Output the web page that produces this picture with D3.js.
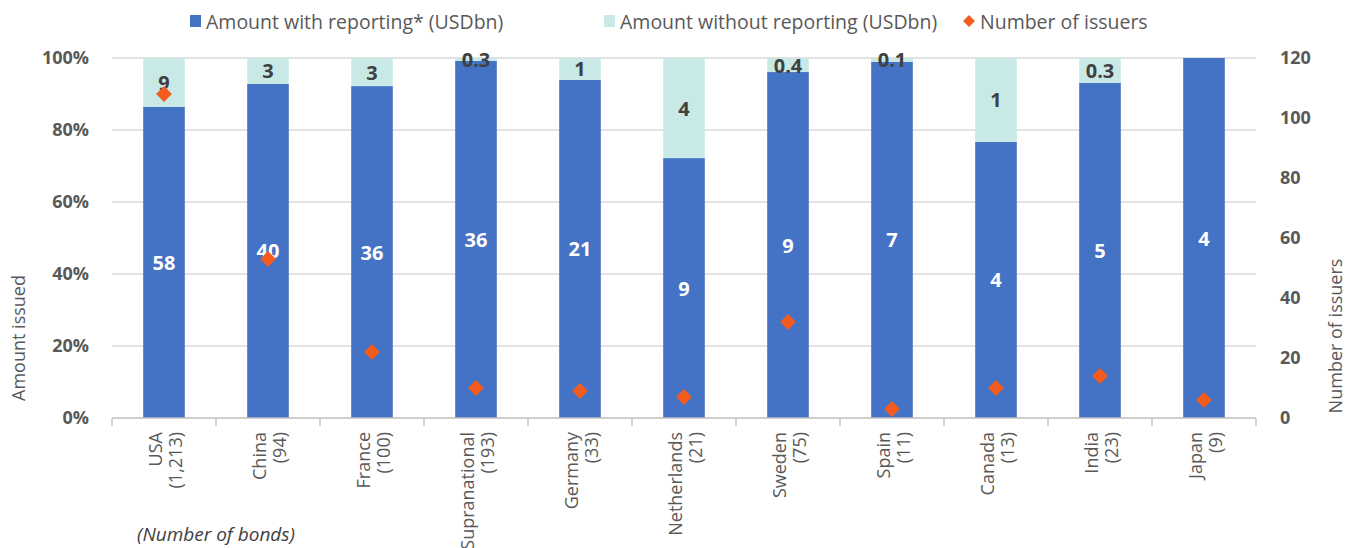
<!DOCTYPE html>
<html>
<head>
<meta charset="utf-8">
<script src="https://cdn.jsdelivr.net/npm/d3@7"></script>
<style>
  body { margin: 0; background: #fff; }
  svg { font-family: "Open Sans", sans-serif; }
</style>
</head>
<body>
<svg width="1349" height="548"></svg>
<script>
// data
var countries = ["USA", "China", "France", "Supranational", "Germany", "Netherlands", "Sweden", "Spain", "Canada", "India", "Japan"];
var bondCounts = ["1,213", "94", "100", "193", "33", "21", "75", "11", "13", "23", "9"];
var withLabels = ["58", "40", "36", "36", "21", "9", "9", "7", "4", "5", "4"];
var withoutLabels = ["9", "3", "3", "0.3", "1", "4", "0.4", "0.1", "1", "0.3", ""];
var shareWith = [86.4, 92.8, 92.2, 99.2, 93.9, 72.2, 96.1, 98.9, 76.7, 93.1, 100];
var issuers = [108, 53, 22, 10, 9, 7, 32, 3, 10, 14, 6];
var pctTicks = [0, 20, 40, 60, 80, 100];
var issuerTicks = [0, 20, 40, 60, 80, 100, 120];

var blue = "#4472C4", light = "#C9E9E6", orange = "#F35B1F", grey = "#595959", dark = "#404040";

var svg = d3.select("svg");
var plotLeft = 112, plotRight = 1256, plotTop = 58, plotBottom = 418;

var x = d3.scaleBand().domain(countries).range([plotLeft, plotRight]).paddingInner(0.6).paddingOuter(0.3);
var y = d3.scaleLinear().domain([0, 100]).range([plotBottom, plotTop]);
var y2 = d3.scaleLinear().domain([0, 120]).range([plotBottom, plotTop]);

// gridlines
svg.append("g").selectAll("line")
  .data(pctTicks.slice(1))
  .enter().append("line")
  .attr("x1", plotLeft).attr("x2", plotRight)
  .attr("y1", function(d) { return y(d); })
  .attr("y2", function(d) { return y(d); })
  .attr("stroke", "#d9d9d9").attr("stroke-width", 1.3);

var rows = countries.map(function(c, i) {
  return { c: c, w: shareWith[i], wo: 100 - shareWith[i], lw: withLabels[i], lwo: withoutLabels[i], n: issuers[i] };
});
var stacked = d3.stack().keys(["w", "wo"])(rows);
var colors = [blue, light];

var series = svg.append("g").selectAll("g")
  .data(stacked)
  .enter().append("g")
  .attr("fill", function(d, i) { return colors[i]; });

series.selectAll("rect")
  .data(function(d) { return d; })
  .enter().append("rect")
  .attr("x", function(d) { return x(d.data.c); })
  .attr("width", x.bandwidth())
  .attr("y", function(d) { return y(d[1]); })
  .attr("height", function(d) { return y(d[0]) - y(d[1]); });

// bottom axis line with category boundary ticks
svg.append("line")
  .attr("x1", plotLeft).attr("x2", plotRight)
  .attr("y1", plotBottom).attr("y2", plotBottom)
  .attr("stroke", "#bfbfbf").attr("stroke-width", 1.3);
var bounds = countries.map(function(c) { return x(c) + x.bandwidth() / 2 - x.step() / 2; });
bounds.push(plotRight);
svg.append("g").selectAll("line")
  .data(bounds)
  .enter().append("line")
  .attr("x1", function(d) { return d; }).attr("x2", function(d) { return d; })
  .attr("y1", plotBottom).attr("y2", plotBottom + 8)
  .attr("stroke", "#bfbfbf").attr("stroke-width", 1.3);

// value labels
svg.append("g").selectAll("text")
  .data(stacked[0])
  .enter().append("text")
  .attr("x", function(d) { return x(d.data.c) + x.bandwidth() / 2; })
  .attr("y", function(d) { return (y(d[0]) + y(d[1])) / 2; })
  .attr("text-anchor", "middle").attr("dominant-baseline", "central")
  .attr("fill", "#fff").attr("font-weight", "bold").attr("font-size", 20)
  .text(function(d) { return d.data.lw; });

svg.append("g").selectAll("text")
  .data(stacked[1])
  .enter().append("text")
  .attr("x", function(d) { return x(d.data.c) + x.bandwidth() / 2; })
  .attr("y", function(d) { return (y(d[0]) + y(d[1])) / 2; })
  .attr("text-anchor", "middle").attr("dominant-baseline", "central")
  .attr("fill", dark).attr("font-weight", "bold").attr("font-size", 20)
  .text(function(d) { return d.data.lwo; });

// issuers diamonds
var diamond = d3.symbol().type(d3.symbolSquare).size(125);
svg.append("g").selectAll("path")
  .data(rows)
  .enter().append("path")
  .attr("d", diamond)
  .attr("transform", function(d) {
    return "translate(" + (x(d.c) + x.bandwidth() / 2) + "," + y2(d.n) + ") rotate(45)";
  })
  .attr("fill", orange);

// left axis
var axL = svg.append("g")
  .attr("transform", "translate(" + plotLeft + ",0)")
  .call(d3.axisLeft(y).tickValues(pctTicks).tickSize(0).tickPadding(23)
    .tickFormat(function(d) { return d + "%"; }));
axL.select(".domain").remove();
axL.selectAll("text").attr("font-size", 18).attr("font-weight", "bold").attr("fill", grey)
  .attr("font-family", "'Open Sans', sans-serif");

// right axis
var axR = svg.append("g")
  .attr("transform", "translate(" + plotRight + ",0)")
  .call(d3.axisRight(y2).tickValues(issuerTicks).tickSize(0).tickPadding(24));
axR.select(".domain").remove();
axR.selectAll("text").attr("font-size", 18).attr("font-weight", "bold").attr("fill", grey)
  .attr("font-family", "'Open Sans', sans-serif");

// category labels
var xl = svg.append("g").selectAll("text")
  .data(countries)
  .enter().append("text")
  .attr("transform", function(d) {
    return "translate(" + (x(d) + x.bandwidth() / 2) + ",432) rotate(-90)";
  })
  .attr("text-anchor", "end").attr("dominant-baseline", "central")
  .attr("fill", grey).attr("font-size", 18);
xl.append("tspan").attr("x", 0).attr("y", -9.5).text(function(d) { return d; });
xl.append("tspan").attr("x", 0).attr("y", 10.5).text(function(d, i) { return "(" + bondCounts[i] + ")"; });

svg.append("text")
  .attr("x", 137).attr("y", 541)
  .attr("font-style", "italic").attr("font-size", 19).attr("fill", dark)
  .text("(Number of bonds)");

// axis titles
svg.append("text")
  .attr("transform", "translate(18,338) rotate(-90)")
  .attr("text-anchor", "middle").attr("dominant-baseline", "central")
  .attr("font-size", 18).attr("fill", grey)
  .text("Amount issued");
svg.append("text")
  .attr("transform", "translate(1335,336) rotate(-90)")
  .attr("text-anchor", "middle").attr("dominant-baseline", "central")
  .attr("font-size", 18).attr("fill", grey)
  .text("Number of issuers");

// legend
var legend = [
  { label: "Amount with reporting* (USDbn)", color: blue, type: "sq", x: 190 },
  { label: "Amount without reporting (USDbn)", color: light, type: "sq", x: 604 },
  { label: "Number of issuers", color: orange, type: "dm", x: 963 }
];
var lg = svg.append("g").selectAll("g")
  .data(legend)
  .enter().append("g")
  .attr("transform", function(d) { return "translate(" + d.x + ",21)"; });
lg.filter(function(d) { return d.type === "sq"; })
  .append("rect").attr("x", 0).attr("y", -6).attr("width", 11).attr("height", 12)
  .attr("fill", function(d) { return d.color; });
lg.filter(function(d) { return d.type === "dm"; })
  .append("path").attr("d", d3.symbol().type(d3.symbolSquare).size(70))
  .attr("transform", "translate(6,0) rotate(45)")
  .attr("fill", function(d) { return d.color; });
lg.append("text")
  .attr("x", function(d) { return d.type === "sq" ? 16 : 17; })
  .attr("dominant-baseline", "central")
  .attr("font-size", 19.5).attr("fill", grey)
  .text(function(d) { return d.label; });
</script>
</body>
</html>
